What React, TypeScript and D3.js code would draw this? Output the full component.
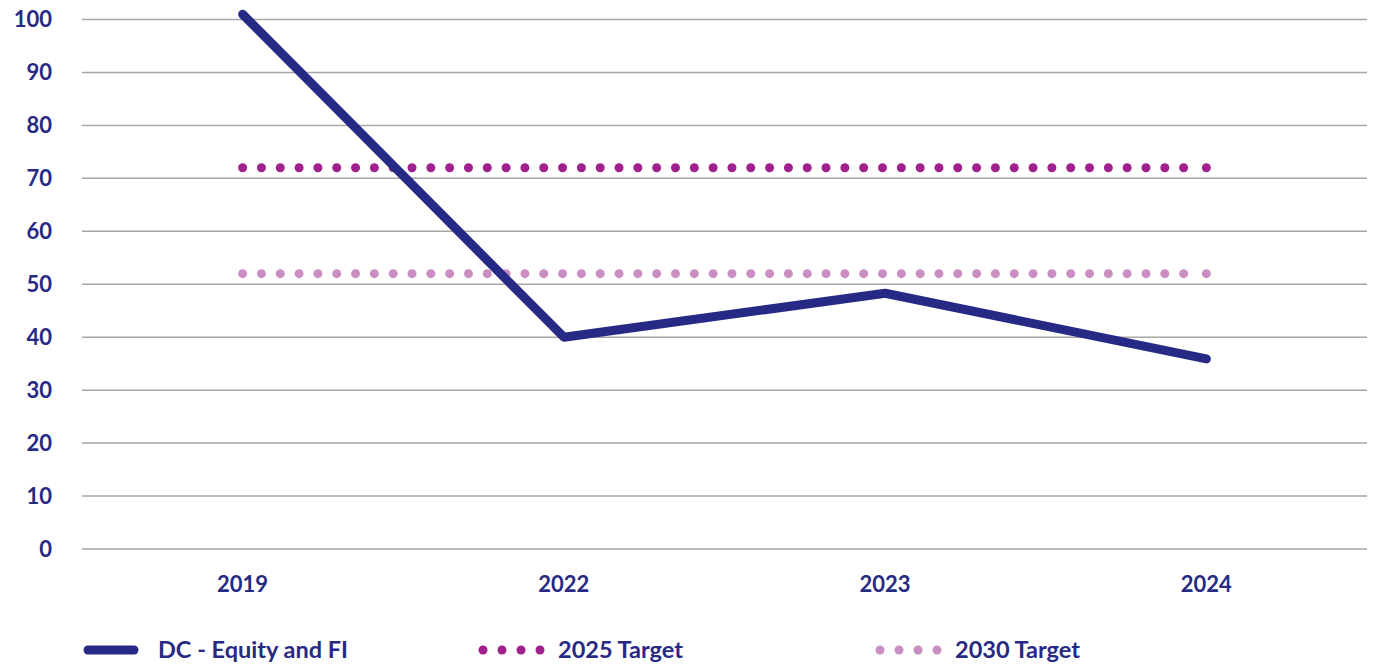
import React, { useRef, useEffect } from 'react';
import * as d3 from 'd3';

const years = ['2019', '2022', '2023', '2024'];
const equityFI = [101, 40, 48.3, 35.9];
const target2025 = [72, 72, 72, 72];
const target2030 = [52, 52, 52, 52];
const yTicks = [0, 10, 20, 30, 40, 50, 60, 70, 80, 90, 100];

const NAVY = '#272a84';
const MAGENTA = '#a0218e';
const PINK = '#cb8ec2';
const FONT = 'Lato, "Open Sans", sans-serif';

const App = () => {
  const svgRef = useRef<SVGSVGElement>(null);

  useEffect(() => {
    const width = 1381;
    const height = 664;
    const margin = { top: 19.5, right: 14, bottom: 115, left: 82 };
    const dotGap = 18.82;

    const root = d3.select(svgRef.current);
    root.selectAll('*').remove();
    root.attr('width', width).attr('height', height);

    const x = d3.scaleBand<string>()
      .domain(years)
      .range([margin.left, width - margin.right]);
    const y = d3.scaleLinear()
      .domain([0, 100])
      .range([height - margin.bottom, margin.top]);
    const cx = (d: string) => (x(d) as number) + x.bandwidth() / 2;

    // grid lines
    root.append('g')
      .selectAll('line')
      .data(yTicks)
      .join('line')
      .attr('x1', margin.left)
      .attr('x2', width - margin.right)
      .attr('y1', d => y(d))
      .attr('y2', d => y(d))
      .attr('stroke', '#a6a6a6')
      .attr('stroke-width', 1.5);

    // y labels
    root.append('g')
      .selectAll('text')
      .data(yTicks)
      .join('text')
      .attr('x', 52)
      .attr('y', d => y(d))
      .attr('dy', '0.36em')
      .attr('text-anchor', 'end')
      .attr('fill', NAVY)
      .style('font-family', FONT)
      .style('font-weight', 700)
      .style('font-size', '22px')
      .text(d => d);

    // x labels
    root.append('g')
      .selectAll('text')
      .data(years)
      .join('text')
      .attr('x', d => cx(d))
      .attr('y', 584)
      .attr('dy', '0.36em')
      .attr('text-anchor', 'middle')
      .attr('fill', NAVY)
      .style('font-family', FONT)
      .style('font-weight', 700)
      .style('font-size', '22px')
      .text(d => d);

    const line = d3.line<number>()
      .x((_, i) => cx(years[i]))
      .y(d => y(d));

    // dotted targets (round dots, last dot pinned to the final category)
    const dotted = [
      { vals: target2030, color: PINK },
      { vals: target2025, color: MAGENTA },
    ];
    const xStart = cx(years[0]);
    const xEnd = cx(years[years.length - 1]);
    dotted.forEach(s => {
      const xs = d3.range(xStart, xEnd - dotGap, dotGap).concat([xEnd]);
      root.append('g')
        .selectAll('circle')
        .data(xs)
        .join('circle')
        .attr('cx', d => d)
        .attr('cy', y(s.vals[0]))
        .attr('r', 4.5)
        .attr('fill', s.color);
    });

    // main series
    root.append('path')
      .datum(equityFI)
      .attr('fill', 'none')
      .attr('stroke', NAVY)
      .attr('stroke-width', 9)
      .attr('stroke-linecap', 'round')
      .attr('stroke-linejoin', 'round')
      .attr('d', line);

    // legend
    const ly = 650;
    const legend = root.append('g');
    legend.append('line')
      .attr('x1', 88).attr('x2', 134)
      .attr('y1', ly).attr('y2', ly)
      .attr('stroke', NAVY)
      .attr('stroke-width', 9)
      .attr('stroke-linecap', 'round');

    [
      { x0: 483, color: MAGENTA },
      { x0: 880, color: PINK },
    ].forEach(m => {
      legend.append('g')
        .selectAll('circle')
        .data([0, 1, 2, 3])
        .join('circle')
        .attr('cx', i => m.x0 + i * 19)
        .attr('cy', ly)
        .attr('r', 4.5)
        .attr('fill', m.color);
    });

    const labels = [
      { x0: 158, text: 'DC - Equity and FI' },
      { x0: 558, text: '2025 Target' },
      { x0: 955, text: '2030 Target' },
    ];
    legend.selectAll('text')
      .data(labels)
      .join('text')
      .attr('x', d => d.x0)
      .attr('y', ly)
      .attr('dy', '0.36em')
      .attr('fill', NAVY)
      .style('font-family', FONT)
      .style('font-weight', 700)
      .style('font-size', '23.5px')
      .text(d => d.text);
  }, []);

  return (
    <div style={{ position: 'absolute', left: 0, top: 0, width: 1381, height: 664, background: '#fff' }}>
      <svg ref={svgRef} style={{ display: 'block' }}></svg>
    </div>
  );
};

export default App;
